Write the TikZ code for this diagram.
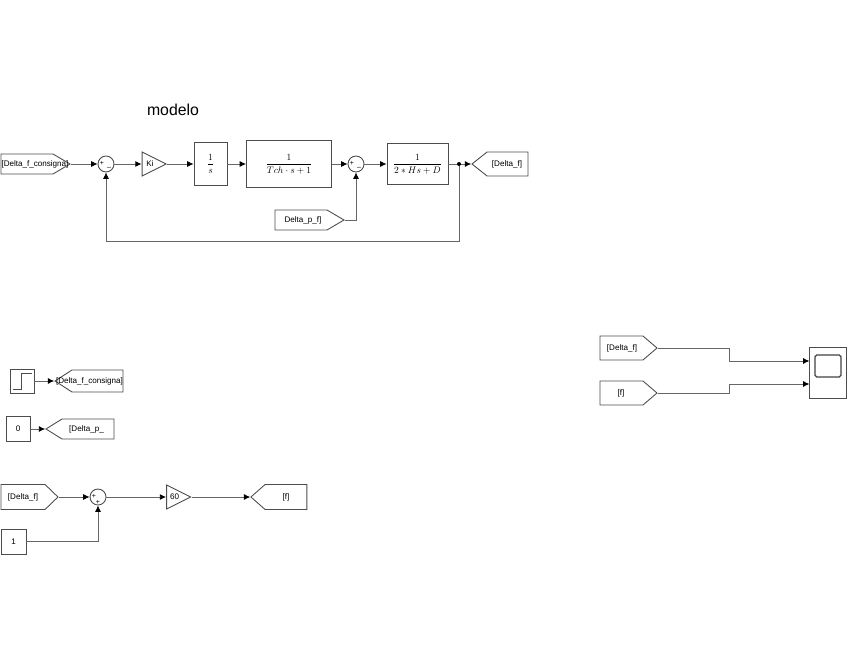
\documentclass[tikz,border=0pt]{standalone}
\usepackage{fontspec}
\setmainfont{Liberation Sans}
\usetikzlibrary{shapes.symbols,shapes.geometric,arrows.meta}
\tikzset{
  wire/.style={draw=black!60,line width=0.5pt,-{Latex[black,length=3.6pt,width=3.4pt]}},
  blk/.style={draw=black!70,line width=0.5pt,rectangle,inner sep=0pt},
  sumblk/.style={draw=black!70,line width=0.5pt,circle,inner sep=0pt,minimum size=0.32cm},
  gainblk/.style={draw=black!70,line width=0.5pt,isosceles triangle,isosceles triangle apex angle=53,inner sep=0pt,minimum height=0.48cm,minimum width=0.48cm},
  fromblk/.style={draw=black!70,line width=0.5pt,signal,signal to=east,signal from=nowhere,inner sep=0pt},
  gotoblk/.style={draw=black!70,line width=0.5pt,signal,signal to=west,signal from=nowhere,inner sep=0pt},
  lbl/.style={font=\fontsize{4.6pt}{5pt}\selectfont,inner sep=0pt,text height=3.6pt,text depth=0.4pt},
  signlbl/.style={font=\fontsize{4pt}{4pt}\selectfont,inner sep=0pt}
}
\newcommand{\blkfrac}[2]{\scalebox{0.54}{$\displaystyle\frac{#1}{#2}$}}
\begin{document}
\begin{tikzpicture}[x=0.02cm,y=-0.02cm]
  \useasboundingbox (0,0) rectangle (848,655);
  \node[font=\fontsize{9pt}{10pt}\selectfont,inner sep=0pt] (title) at (173,110) {modelo};

  % lazo principal
  \node[fromblk,signal pointer angle=61,minimum width=1.38cm,minimum height=0.4cm] (consigna) at (27,164) {};
  \node[lbl] (consignatxt) at (35,164) {[Delta\_f\_consigna]};
  \node[sumblk] (sumA) at (106,164) {};
  \node[signlbl] (sumAp) at (102,163) {+};
  \node[signlbl] (sumAm) at (109,168) {--};
  \node[gainblk] (ki) at (149.5,164) {};
  \node[lbl] (kitxt) at (150,164) {Ki};
  \node[blk,minimum width=0.66cm,minimum height=0.86cm] (integ) at (210.5,164) {\blkfrac{1}{s}};
  \node[blk,minimum width=1.7cm,minimum height=0.94cm] (turb) at (289,164) {\blkfrac{1}{Tch\cdot s+1}};
  \node[sumblk] (sumB) at (356,164) {};
  \node[signlbl] (sumBp) at (352,163) {+};
  \node[signlbl] (sumBm) at (359,168) {--};
  \node[blk,minimum width=1.22cm,minimum height=0.82cm] (rotor) at (417.5,164) {\blkfrac{1}{2*Hs+D}};
  \node[gotoblk,signal pointer angle=77,minimum width=1.12cm,minimum height=0.48cm] (gotoDf) at (507.5,164) {};
  \node[lbl] (gotoDftxt) at (507,164) {[Delta\_f]};
  \node[fromblk,signal pointer angle=61,minimum width=1.38cm,minimum height=0.4cm] (dp) at (301,220) {};
  \node[lbl] (dptxt) at (303,220) {Delta\_p\_f]};
  \coordinate (nudo) at (459,164);
  \coordinate (esqA) at (459,241);
  \coordinate (esqB) at (106,241);
  \coordinate (esqC) at (356,220);

  \draw[wire] (consigna.east) -- (sumA.west);
  \draw[wire] (sumA.east) -- (ki.west);
  \draw[wire] (ki.apex) -- (integ.west);
  \draw[wire] (integ.east) -- (turb.west);
  \draw[wire] (turb.east) -- (sumB.west);
  \draw[wire] (sumB.east) -- (rotor.west);
  \draw[wire] (rotor.east) -- (gotoDf.west);
  \draw[wire] (nudo) -- (esqA) -- (esqB) -- (sumA.south);
  \draw[wire] (dp.east) -- (esqC) -- (sumB.south);
  \fill (nudo) circle (2);

  % escalon y constante
  \node[blk,minimum width=0.48cm,minimum height=0.48cm] (step) at (22,381) {};
  \draw[black!70,line width=0.5pt] (13,389) -- (21,389) -- (21,373) -- (32,373);
  \node[gotoblk,signal pointer angle=66,minimum width=1.36cm,minimum height=0.44cm] (gotoCons) at (97.5,381) {};
  \node[lbl] (gotoConstxt) at (89.5,381) {[Delta\_f\_consigna]};
  \node[blk,minimum width=0.48cm,minimum height=0.5cm,lbl] (cero) at (18,429) {0};
  \node[gotoblk,signal pointer angle=64,minimum width=1.36cm,minimum height=0.4cm] (gotoDp) at (88,429) {};
  \node[lbl] (gotoDptxt) at (86.5,429) {[Delta\_p\_};
  \draw[wire] (step.east) -- (gotoCons.west);
  \draw[wire] (cero.east) -- (gotoDp.west);

  % frecuencia
  \node[fromblk,signal pointer angle=88,minimum width=1.14cm,minimum height=0.5cm] (fromDf) at (23,497) {};
  \node[lbl] (fromDftxt) at (23,497) {[Delta\_f]};
  \node[sumblk] (sumC) at (98,497) {};
  \node[signlbl] (sumCp) at (94,496) {+};
  \node[signlbl] (sumCq) at (98,502) {+};
  \node[gainblk] (sesenta) at (174,497) {};
  \node[lbl] (sesentatxt) at (174.5,497) {60};
  \node[gotoblk,signal pointer angle=83,minimum width=1.12cm,minimum height=0.5cm] (gotoF) at (286,497) {};
  \node[lbl] (gotoFtxt) at (286,497) {[f]};
  \node[blk,minimum width=0.5cm,minimum height=0.5cm,lbl] (uno) at (13.5,541.5) {1};
  \coordinate (esqD) at (98,541.5);
  \draw[wire] (fromDf.east) -- (sumC.west);
  \draw[wire] (sumC.east) -- (sesenta.west);
  \draw[wire] (sesenta.apex) -- (gotoF.west);
  \draw[wire] (uno.east) -- (esqD) -- (sumC.south);

  % osciloscopio
  \node[fromblk,signal pointer angle=81,minimum width=1.14cm,minimum height=0.48cm] (scopeDf) at (621.5,348) {};
  \node[lbl] (scopeDftxt) at (622,348) {[Delta\_f]};
  \node[fromblk,signal pointer angle=81,minimum width=1.14cm,minimum height=0.48cm] (scopeF) at (621.5,393) {};
  \node[lbl] (scopeFtxt) at (621,393) {[f]};
  \node[blk,minimum width=0.74cm,minimum height=1.02cm] (scope) at (828,372.5) {};
  \node[draw=black!75,line width=0.7pt,rectangle,rounded corners=1pt,inner sep=0pt,minimum width=0.52cm,minimum height=0.44cm] (pantalla) at (828,366) {};
  \coordinate (inA) at (809.5,361);
  \coordinate (inB) at (809.5,384);
  \draw[wire] (scopeDf.east) -| (729,361) -- (inA);
  \draw[wire] (scopeF.east) -| (729,384) -- (inB);
\end{tikzpicture}
\end{document}
